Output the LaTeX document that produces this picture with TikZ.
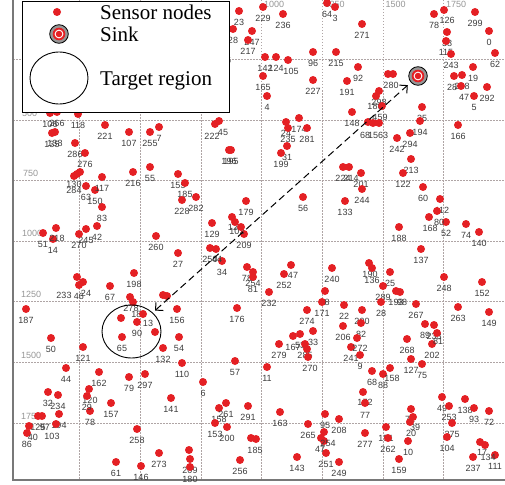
\documentclass[tikz,border=0pt]{standalone}
\usepackage{fontspec}
\setmainfont{Liberation Serif}
\setsansfont{Liberation Sans}
\usetikzlibrary{positioning,shapes.geometric,arrows.meta}
\definecolor{dotred}{RGB}{228,32,36}
\definecolor{idgray}{RGB}{60,60,60}
\definecolor{axgray}{RGB}{150,150,150}
\definecolor{gridgray}{RGB}{175,165,165}
\definecolor{framegray}{RGB}{120,120,120}
\definecolor{sinkgray}{RGB}{150,150,150}

\begin{document}
\begin{tikzpicture}[x=1pt,y=-1pt]
	\tikzstyle{sensor} = [circle, fill=dotred, inner sep=0pt, minimum size=8pt];
	\tikzstyle{idlabel} = [font=\sffamily\fontsize{9}{9}\selectfont, text=idgray, inner sep=0pt];
	\tikzstyle{axlabel} = [font=\sffamily\fontsize{9}{9}\selectfont, text=axgray, inner sep=0pt, anchor=west];
	\tikzstyle{gridline} = [gridgray, line width=0.6pt, dash pattern=on 1.5pt off 1.5pt];
	\tikzstyle{sinknode} = [circle, draw=black, fill=sinkgray, line width=0.8pt, inner sep=0pt, minimum size=18.6pt];
	\tikzstyle{region} = [ellipse, draw=black, line width=0.9pt, inner sep=0pt];
	\tikzstyle{legtext} = [font=\fontsize{21}{21}\selectfont, inner sep=0pt, anchor=base west];
	\tikzstyle{dasharrow} = [line width=1pt, dash pattern=on 7pt off 4pt, {Straight Barb[length=5.5pt,width=11pt]}-{Straight Barb[length=5.5pt,width=11pt]}];

	\useasboundingbox (0,0) rectangle (505,484);

	% grid
	\foreach \k in {1,...,7} {
		\draw[gridline] ({19+60.65*\k},0) -- ({19+60.65*\k},480);
		\draw[gridline] (13,{-1.5+60.65*\k}) -- (505,{-1.5+60.65*\k});
	}
	\draw[framegray, line width=1.2pt] (13,0) -- (13,480) -- (505,480);

	\node[axlabel] (ax500) at (22,113) {500};
	\node[axlabel] (ax750) at (23,173) {750};
	\node[axlabel] (ax1000) at (22,233) {1000};
	\node[axlabel] (ax1250) at (21,294) {1250};
	\node[axlabel] (ax1500) at (21,355) {1500};
	\node[axlabel] (ax1750) at (21,416) {1750};
	\node[axlabel] (top1000) at (264,4.5) {1000};
	\node[axlabel] (top1250) at (324.5,4.5) {1250};
	\node[axlabel] (top1500) at (385.5,4.5) {1500};
	\node[axlabel] (top1750) at (446,4.5) {1750};

	% sensors, id below
	\foreach \px/\py/\id [count=\i] in {
		78/114/118, 50/113/106, 57/112/266, 52/133/135, 55/132/138,
		75/143/286, 85/153/276, 105/125/221, 129/132/107, 150/132/255, 159/127/7,
		239/11/23, 263/7/229, 283/14/236, 233/29/28, 252/31/247, 248/40/217,
		265/57/142, 276/57/124, 313/52/96, 336/52/215, 263/76/165, 313/80/227, 267/96/4,
		229/150/196, 231/150/195, 299/118/174, 307/128/281, 286/122/24, 288/128/235, 287/146/31, 281/153/199,
		335/7/3, 362/24/271, 434/14/78, 475/12/299, 447/32/38, 446/41/115, 451/54/243, 489/31/0, 495/53/62,
		473/67/19, 462/75/288, 487/87/292, 474/96/5, 358/67/92, 347/81/191, 379/91/298, 352/112/148,
		422/107/35, 420/121/194, 410/133/294, 397/138/242, 411/159/213, 458/125/166,
		86/186/63, 95/190/150, 102/177/117, 102/207/83, 97/226/42, 86/229/245, 79/234/270, 43/233/51,
		53/239/14, 133/172/216, 150/167/55, 156/236/260, 134/273/198, 110/286/67, 79/285/46, 26/309/187,
		122/337/65, 177/309/156, 163/348/132, 179/337/54, 182/363/110,
		178/174/155, 185/183/185, 182/200/228, 196/197/282, 246/201/179, 303/197/56, 212/223/129, 244/234/209,
		178/253/27, 210/248/250, 222/261/34, 247/267/78, 284/274/252, 269/292/232, 332/268/240, 322/302/171,
		237/308/176, 307/310/274,
		361/173/201, 362/189/244, 345/201/133, 403/173/122, 423/187/60, 446/222/52, 466/224/74, 479/232/140,
		399/227/188, 421/249/137, 390/272/25, 383/286/289, 381/302/28, 444/277/248, 482/282/152, 344/305/22,
		362/310/290, 416/304/267, 458/307/263, 489/312/149,
		51/338/50, 83/347/121, 66/368/44, 99/372/162, 129/377/79, 145/374/297, 171/398/141, 48/392/32,
		58/395/234, 90/411/78, 111/403/157, 59/414/194, 27/433/86, 137/429/258, 116/462/61, 141/466/146, 159/453/273,
		235/361/57, 267/367/11, 203/382/6, 279/344/279, 293/336/167, 300/334/53, 313/331/33, 305/344/285,
		219/408/158, 226/403/261, 215/423/153, 227/427/200, 248/406/291, 280/412/163, 240/460/256, 297/457/143,
		325/414/95, 308/424/265, 326/453/251,
		343/326/206, 361/323/82, 351/347/241, 360/355/9, 407/339/268, 425/324/89, 434/325/233, 432/344/202,
		411/359/127, 422/364/75, 372/371/68, 383/374/88, 386/427/151, 388/438/262, 408/441/10, 399/459/159,
		339/462/249, 442/397/49, 449/406/253, 465/399/138, 474/408/93, 489/411/72, 452/423/275, 447/437/104,
		473/457/237, 495/455/111, 339/419/208, 365/433/277} {
		\node[sensor] (s\i) at (\px,\py) {};
		\node[idlabel, below=4pt of s\i] (l\i) {\id};
	}

	% sensors in crowded spots, id placed by hand
	\foreach \px/\py/\id/\lx/\ly [count=\i] in {
		222/49/16/226/60, 288/60/105/291/71, 215/124/222/212/136, 219/121/45/223/132, 327/3/64/327/14,
		444/10/126/447/20, 454/76/28/452/87, 461/86/47/464/97, 388/74/280/391/85, 376/96/186/375/106,
		382/106/459/380/117, 368/122/68/365/135, 373/123/15/373/135, 379/123/63/383/135,
		74/176/130/74/184, 80/172/284/74/190, 56/228/218/57/238, 77/277/233/64/295, 83/282/24/86/293,
		130/297/278/131/308, 133/302/182/139/314, 143/314/13/148/323, 137/322/90/137/333,
		232/217/12/233/227, 235/222/102/237/231, 216/249/44/217/259, 253/272/254/253/283, 253/277/81/253/289,
		291/265/47/293/275, 325/291/8/327/302,
		343/167/224/343/178, 349/167/214/351/178, 440/199/112/442/210, 437/211/80/439/222, 429/217/168/430/228,
		369/263/190/370/274, 372/268/136/372/280, 396/291/193/396/302, 400/292/98/402/302,
		89/389/120/90/400, 87/396/29/87/407, 38/416/125/38/427, 42/416/97/45/427, 56/424/103/52/436, 29/426/40/33/437,
		308/357/270/310/368, 256/439/185/255/450, 190/459/209/190/470, 190/467/180/190/479, 321/438/47/320/449,
		324/441/254/328/443,
		357/338/272/360/348, 437/333/81/438/341, 390/368/158/392/378, 363/392/172/365/402, 365/403/77/365/415,
		411/409/72/410/419, 413/417/39/415/427, 410/422/20/411/433, 480/442/17/482/452, 485/445/134/488/457} {
		\node[sensor] (c\i) at (\px,\py) {};
		\node[idlabel] (cl\i) at (\lx,\ly) {\id};
	}

	% ids hidden under other dots
	\foreach \px/\py [count=\i] in {393/74, 77/174, 121/318, 155/332, 163/295, 167/296, 241/227, 307/349, 251/438, 189/450, 324/432}
		\node[sensor] (u\i) at (\px,\py) {};

	% legend
	\node[draw=black, fill=white, line width=0.8pt, minimum width=206.5pt, minimum height=111pt, inner sep=0pt, anchor=north west] (legend) at (22,1) {};
	\node[sensor] (legdot) at (57,12) {};
	\node[legtext] (legdottext) at (100,20) {Sensor nodes};
	\node[sinknode] (legsink) at (59,34) {};
	\fill[dotred] (legsink) circle (6.3pt);
	\draw[white, line width=0.9pt] (legsink) circle (3.9pt);
	\node[legtext] (legsinktext) at (100,42) {Sink};
	\node[region, minimum width=58pt, minimum height=52pt] (legregion) at (59,78) {};
	\node[legtext] (legregiontext) at (100,85) {Target region};

	% sink and target region
	\node[region, minimum width=59pt, minimum height=53pt] (target) at (131.5,331.5) {};
	\node[sinknode] (sink) at (418,76) {};
	\fill[dotred] (sink) circle (6.3pt);
	\draw[white, line width=0.9pt] (sink) circle (3.9pt);

	\draw[dasharrow, shorten <=3pt, shorten >=4pt] (target) -- (sink);

\end{tikzpicture}
\end{document}
